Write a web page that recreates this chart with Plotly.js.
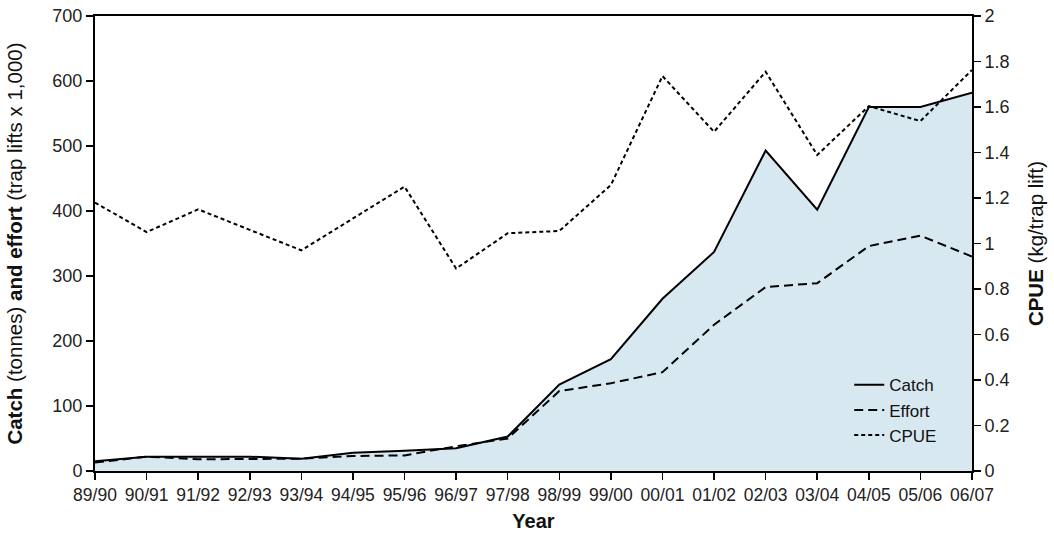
<!DOCTYPE html>
<html>
<head>
<meta charset="utf-8">
<script src="https://cdn.plot.ly/plotly-3.0.1.min.js"></script>
<style>html,body{margin:0;padding:0;background:#fff;}#chart{width:1054px;height:548px;}</style>
</head>
<body>
<div id="chart"></div>
<script>
var years = ["89/90","90/91","91/92","92/93","93/94","94/95","95/96","96/97","97/98","98/99","99/00","00/01","01/02","02/03","03/04","04/05","05/06","06/07"];
var catchTonnes = [15,22,22,22,19,28,31,35,53,133,172,265,337,493,402,560,560,582];
var effortLifts = [13,22,18,18,19,23,24,38,50,123,135,152,225,283,289,346,362,330];
var cpue = [1.18,1.05,1.15,1.06,0.97,1.11,1.25,0.89,1.045,1.055,1.257,1.736,1.491,1.755,1.389,1.604,1.538,1.763];

var font = "Liberation Sans, Arial, sans-serif";
var traces = [
  {x: years, y: catchTonnes, type: "scatter", mode: "none", fill: "tozeroy", fillcolor: "#d8e8f1", showlegend: false, hoverinfo: "skip"},
  {x: years, y: catchTonnes, type: "scatter", mode: "lines", name: "Catch", line: {color: "#000", width: 2}},
  {x: years, y: effortLifts, type: "scatter", mode: "lines", name: "Effort", line: {color: "#000", width: 2, dash: "9px,5px"}},
  {x: years, y: cpue, type: "scatter", mode: "lines", name: "CPUE", yaxis: "y2", line: {color: "#000", width: 2, dash: "4px,3px"}}
];
var layout = {
  width: 1054, height: 548,
  margin: {l: 95, r: 82, t: 16, b: 77},
  paper_bgcolor: "#fff", plot_bgcolor: "#fff",
  font: {family: font, size: 17, color: "#222"},
  showlegend: true,
  legend: {x: 0.86, y: 0.228, xanchor: "left", yanchor: "top", bgcolor: "rgba(0,0,0,0)", font: {size: 17, color: "#111"}, tracegroupgap: 0, itemwidth: 30},
  xaxis: {
    type: "category", range: [0, 17], automargin: false,
    showline: true, linecolor: "#000", linewidth: 2, mirror: true,
    ticks: "outside", ticklen: 7, tickwidth: 1.5, tickcolor: "#000",
    showgrid: false, zeroline: false,
    tickfont: {size: 17.5},
    title: {text: "<b>Year</b>", font: {size: 20, color: "#111"}, standoff: 10}
  },
  yaxis: {
    range: [0, 700], dtick: 100, automargin: false,
    showline: true, linecolor: "#000", linewidth: 2,
    ticks: "outside", ticklen: 7, tickwidth: 1.5, tickcolor: "#000",
    showgrid: false, zeroline: false,
    tickfont: {size: 18},
    title: {text: "<b>Catch</b> (tonnes) <b>and effort</b> (trap lifts x 1,000)", font: {size: 20.5, color: "#111"}, standoff: 24}
  },
  yaxis2: {
    overlaying: "y", side: "right", range: [0, 2], dtick: 0.2, automargin: false,
    showline: true, linecolor: "#000", linewidth: 2,
    ticks: "outside", ticklen: 7, tickwidth: 1.5, tickcolor: "#000",
    showgrid: false, zeroline: false,
    tickfont: {size: 18},
    title: {text: "<b>CPUE</b> (kg/trap lift)", font: {size: 20.5, color: "#111"}, standoff: 20}
  }
};
Plotly.newPlot("chart", traces, layout, {displayModeBar: false, staticPlot: true});
</script>
</body>
</html>
